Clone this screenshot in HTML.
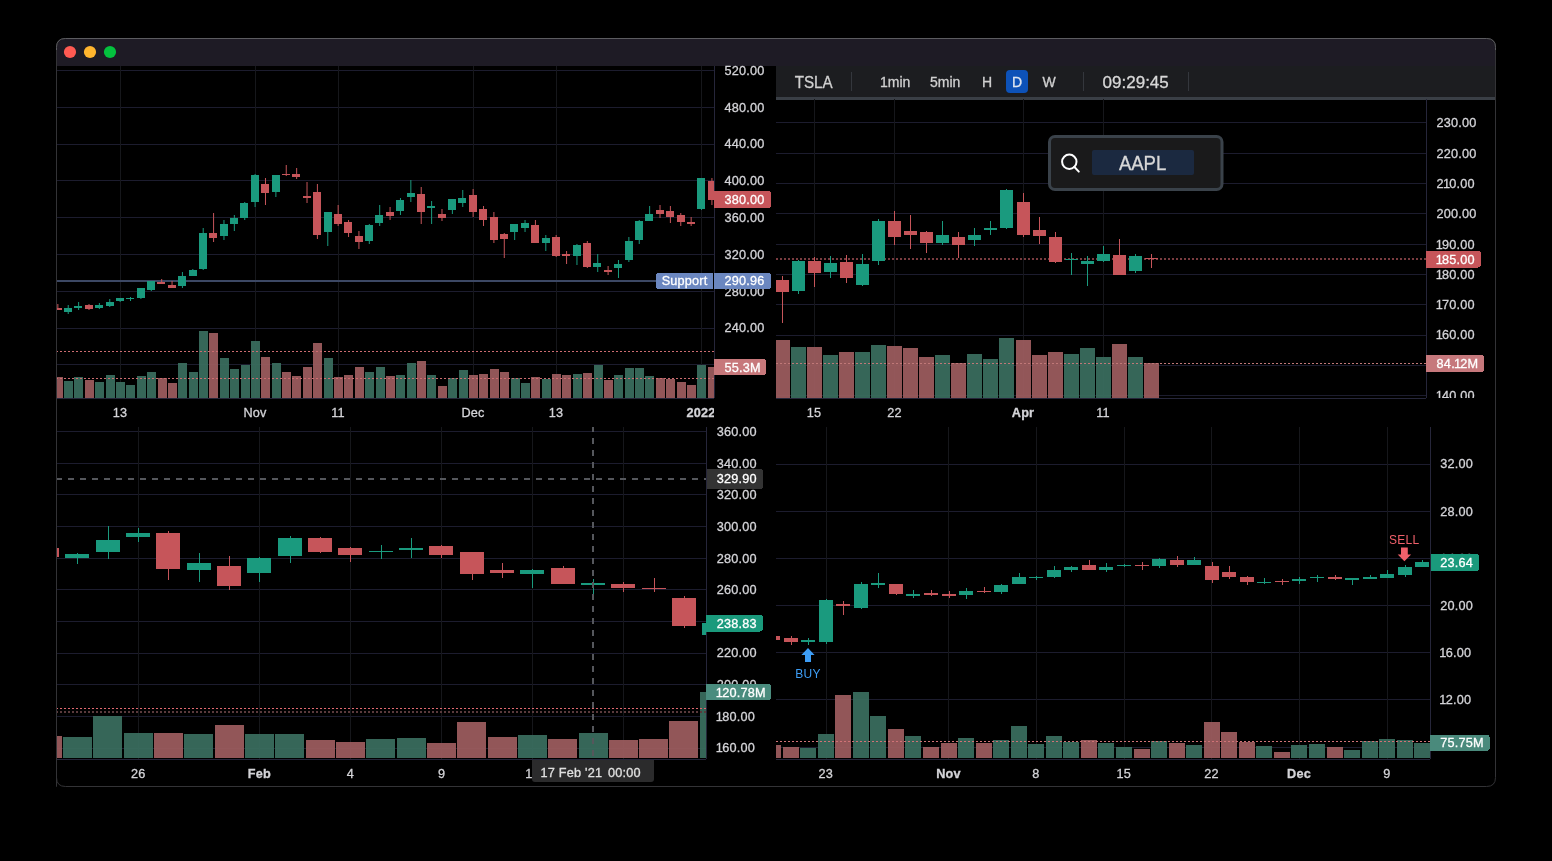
<!DOCTYPE html><html><head><meta charset="utf-8"><style>html,body{margin:0;padding:0;background:#000;width:1552px;height:861px;overflow:hidden}svg{display:block;will-change:transform}</style></head><body><svg width="1552" height="861" viewBox="0 0 1552 861" font-family='"Liberation Sans", sans-serif' shape-rendering="crispEdges">
<defs><clipPath id="cTL"><rect x="57" y="66" width="657" height="332"/></clipPath><clipPath id="cTLt"><rect x="57" y="398" width="657" height="28"/></clipPath><clipPath id="cTR"><rect x="776" y="99" width="650" height="299"/></clipPath><clipPath id="cTRa"><rect x="1427" y="99" width="68" height="299"/></clipPath><clipPath id="cBL"><rect x="57" y="427" width="649" height="332"/></clipPath><clipPath id="cBR"><rect x="776" y="427" width="654" height="332"/></clipPath></defs>
<rect width="1552" height="861" fill="#000"/>
<path shape-rendering="geometricPrecision" d="M56.5,786.5 V47.5 Q56.5,38.5 65.5,38.5 H1486.5 Q1495.5,38.5 1495.5,47.5 V777.5 Q1495.5,786.5 1486.5,786.5 H65.5 Q56.5,786.5 56.5,777.5 Z" fill="#000" stroke="#333336" stroke-width="1"/>
<path shape-rendering="geometricPrecision" d="M57,66 V48 Q57,39 66,39 H1486 Q1495,39 1495,48 V66 Z" fill="#1e1b25"/>
<path shape-rendering="geometricPrecision" d="M56.5,50 V47.5 Q56.5,38.5 65.5,38.5 H1486.5 Q1495.5,38.5 1495.5,47.5 V50" fill="none" stroke="#5c5c60" stroke-width="1"/>
<circle shape-rendering="geometricPrecision" cx="70" cy="52" r="6.1" fill="#ff5a52"/>
<circle shape-rendering="geometricPrecision" cx="90" cy="52" r="6.1" fill="#ffb52e"/>
<circle shape-rendering="geometricPrecision" cx="110" cy="52" r="6.1" fill="#04c13e"/>
<g clip-path="url(#cTL)">
<rect x="57" y="70" width="657" height="1" fill="#1c1c2e"/>
<rect x="57" y="107" width="657" height="1" fill="#1c1c2e"/>
<rect x="57" y="144" width="657" height="1" fill="#1c1c2e"/>
<rect x="57" y="180" width="657" height="1" fill="#1c1c2e"/>
<rect x="57" y="217" width="657" height="1" fill="#1c1c2e"/>
<rect x="57" y="254" width="657" height="1" fill="#1c1c2e"/>
<rect x="57" y="291" width="657" height="1" fill="#1c1c2e"/>
<rect x="57" y="328" width="657" height="1" fill="#1c1c2e"/>
<rect x="57" y="364" width="657" height="1" fill="#1c1c2e"/>
<rect x="120" y="66" width="1" height="332" fill="#16171b"/>
<rect x="255" y="66" width="1" height="332" fill="#16171b"/>
<rect x="338" y="66" width="1" height="332" fill="#16171b"/>
<rect x="473" y="66" width="1" height="332" fill="#16171b"/>
<rect x="556" y="66" width="1" height="332" fill="#16171b"/>
<rect x="701" y="66" width="1" height="332" fill="#16171b"/>
<rect x="54" y="377" width="9" height="21" fill="#9e5d60" fill-opacity="0.92"/>
<rect x="64" y="381" width="9" height="17" fill="#3b6f60" fill-opacity="0.92"/>
<rect x="74" y="377" width="9" height="21" fill="#3b6f60" fill-opacity="0.92"/>
<rect x="85" y="380" width="9" height="18" fill="#9e5d60" fill-opacity="0.92"/>
<rect x="95" y="382" width="9" height="16" fill="#3b6f60" fill-opacity="0.92"/>
<rect x="106" y="375" width="9" height="23" fill="#3b6f60" fill-opacity="0.92"/>
<rect x="116" y="382" width="9" height="16" fill="#3b6f60" fill-opacity="0.92"/>
<rect x="126" y="385" width="9" height="13" fill="#3b6f60" fill-opacity="0.92"/>
<rect x="137" y="376" width="9" height="22" fill="#3b6f60" fill-opacity="0.92"/>
<rect x="147" y="372" width="9" height="26" fill="#3b6f60" fill-opacity="0.92"/>
<rect x="158" y="378" width="9" height="20" fill="#9e5d60" fill-opacity="0.92"/>
<rect x="168" y="383" width="9" height="15" fill="#9e5d60" fill-opacity="0.92"/>
<rect x="178" y="363" width="9" height="35" fill="#3b6f60" fill-opacity="0.92"/>
<rect x="189" y="372" width="9" height="26" fill="#3b6f60" fill-opacity="0.92"/>
<rect x="199" y="331" width="9" height="67" fill="#3b6f60" fill-opacity="0.92"/>
<rect x="209" y="333" width="9" height="65" fill="#9e5d60" fill-opacity="0.92"/>
<rect x="220" y="358" width="9" height="40" fill="#3b6f60" fill-opacity="0.92"/>
<rect x="230" y="369" width="9" height="29" fill="#3b6f60" fill-opacity="0.92"/>
<rect x="241" y="365" width="9" height="33" fill="#3b6f60" fill-opacity="0.92"/>
<rect x="251" y="341" width="9" height="57" fill="#3b6f60" fill-opacity="0.92"/>
<rect x="261" y="357" width="9" height="41" fill="#9e5d60" fill-opacity="0.92"/>
<rect x="272" y="363" width="9" height="35" fill="#3b6f60" fill-opacity="0.92"/>
<rect x="282" y="372" width="9" height="26" fill="#9e5d60" fill-opacity="0.92"/>
<rect x="292" y="376" width="9" height="22" fill="#9e5d60" fill-opacity="0.92"/>
<rect x="303" y="367" width="9" height="31" fill="#9e5d60" fill-opacity="0.92"/>
<rect x="313" y="343" width="9" height="55" fill="#9e5d60" fill-opacity="0.92"/>
<rect x="324" y="358" width="9" height="40" fill="#3b6f60" fill-opacity="0.92"/>
<rect x="334" y="377" width="9" height="21" fill="#9e5d60" fill-opacity="0.92"/>
<rect x="344" y="375" width="9" height="23" fill="#9e5d60" fill-opacity="0.92"/>
<rect x="355" y="367" width="9" height="31" fill="#9e5d60" fill-opacity="0.92"/>
<rect x="365" y="372" width="9" height="26" fill="#3b6f60" fill-opacity="0.92"/>
<rect x="376" y="367" width="9" height="31" fill="#3b6f60" fill-opacity="0.92"/>
<rect x="386" y="376" width="9" height="22" fill="#9e5d60" fill-opacity="0.92"/>
<rect x="396" y="375" width="9" height="23" fill="#3b6f60" fill-opacity="0.92"/>
<rect x="407" y="363" width="9" height="35" fill="#3b6f60" fill-opacity="0.92"/>
<rect x="417" y="361" width="9" height="37" fill="#9e5d60" fill-opacity="0.92"/>
<rect x="427" y="375" width="9" height="23" fill="#3b6f60" fill-opacity="0.92"/>
<rect x="438" y="386" width="9" height="12" fill="#9e5d60" fill-opacity="0.92"/>
<rect x="448" y="378" width="9" height="20" fill="#3b6f60" fill-opacity="0.92"/>
<rect x="459" y="370" width="9" height="28" fill="#3b6f60" fill-opacity="0.92"/>
<rect x="469" y="375" width="9" height="23" fill="#9e5d60" fill-opacity="0.92"/>
<rect x="479" y="374" width="9" height="24" fill="#9e5d60" fill-opacity="0.92"/>
<rect x="490" y="369" width="9" height="29" fill="#9e5d60" fill-opacity="0.92"/>
<rect x="500" y="372" width="9" height="26" fill="#9e5d60" fill-opacity="0.92"/>
<rect x="511" y="378" width="9" height="20" fill="#3b6f60" fill-opacity="0.92"/>
<rect x="521" y="383" width="9" height="15" fill="#3b6f60" fill-opacity="0.92"/>
<rect x="531" y="377" width="9" height="21" fill="#9e5d60" fill-opacity="0.92"/>
<rect x="542" y="379" width="9" height="19" fill="#3b6f60" fill-opacity="0.92"/>
<rect x="552" y="374" width="9" height="24" fill="#9e5d60" fill-opacity="0.92"/>
<rect x="562" y="375" width="9" height="23" fill="#9e5d60" fill-opacity="0.92"/>
<rect x="573" y="374" width="9" height="24" fill="#3b6f60" fill-opacity="0.92"/>
<rect x="583" y="373" width="9" height="25" fill="#9e5d60" fill-opacity="0.92"/>
<rect x="594" y="365" width="9" height="33" fill="#3b6f60" fill-opacity="0.92"/>
<rect x="604" y="380" width="9" height="18" fill="#9e5d60" fill-opacity="0.92"/>
<rect x="614" y="375" width="9" height="23" fill="#3b6f60" fill-opacity="0.92"/>
<rect x="625" y="368" width="9" height="30" fill="#3b6f60" fill-opacity="0.92"/>
<rect x="635" y="368" width="9" height="30" fill="#3b6f60" fill-opacity="0.92"/>
<rect x="645" y="376" width="9" height="22" fill="#3b6f60" fill-opacity="0.92"/>
<rect x="656" y="378" width="9" height="20" fill="#9e5d60" fill-opacity="0.92"/>
<rect x="666" y="379" width="9" height="19" fill="#9e5d60" fill-opacity="0.92"/>
<rect x="677" y="382" width="9" height="16" fill="#9e5d60" fill-opacity="0.92"/>
<rect x="687" y="385" width="9" height="13" fill="#9e5d60" fill-opacity="0.92"/>
<rect x="697" y="365" width="9" height="33" fill="#3b6f60" fill-opacity="0.92"/>
<rect x="708" y="367" width="9" height="31" fill="#9e5d60" fill-opacity="0.92"/>
<rect x="57" y="280" width="600" height="2" fill="#3c4864"/>
<rect x="57.35" y="304" width="1" height="6" fill="#c6555a" shape-rendering="geometricPrecision"/>
<rect x="54" y="308" width="8" height="2" fill="#c6555a"/>
<rect x="67.73" y="305" width="1" height="9" fill="#1a9a7e" shape-rendering="geometricPrecision"/>
<rect x="64" y="308" width="8" height="4" fill="#1a9a7e"/>
<rect x="78.11" y="302" width="1" height="8" fill="#1a9a7e" shape-rendering="geometricPrecision"/>
<rect x="74" y="306" width="8" height="2" fill="#1a9a7e"/>
<rect x="88.5" y="304" width="1" height="6" fill="#c6555a" shape-rendering="geometricPrecision"/>
<rect x="85" y="305" width="8" height="4" fill="#c6555a"/>
<rect x="98.88" y="303" width="1" height="6" fill="#1a9a7e" shape-rendering="geometricPrecision"/>
<rect x="95" y="305" width="8" height="3" fill="#1a9a7e"/>
<rect x="109.26" y="299" width="1" height="8" fill="#1a9a7e" shape-rendering="geometricPrecision"/>
<rect x="106" y="302" width="8" height="4" fill="#1a9a7e"/>
<rect x="119.64" y="298" width="1" height="4" fill="#1a9a7e" shape-rendering="geometricPrecision"/>
<rect x="116" y="298" width="8" height="3" fill="#1a9a7e"/>
<rect x="130.02" y="297" width="1" height="4" fill="#1a9a7e" shape-rendering="geometricPrecision"/>
<rect x="126" y="298" width="8" height="1" fill="#1a9a7e"/>
<rect x="140.41" y="288" width="1" height="11" fill="#1a9a7e" shape-rendering="geometricPrecision"/>
<rect x="137" y="288" width="8" height="10" fill="#1a9a7e"/>
<rect x="150.79" y="281" width="1" height="10" fill="#1a9a7e" shape-rendering="geometricPrecision"/>
<rect x="147" y="281" width="8" height="9" fill="#1a9a7e"/>
<rect x="161.17" y="279" width="1" height="5" fill="#c6555a" shape-rendering="geometricPrecision"/>
<rect x="157" y="282" width="8" height="2" fill="#c6555a"/>
<rect x="171.55" y="281" width="1" height="7" fill="#c6555a" shape-rendering="geometricPrecision"/>
<rect x="168" y="285" width="8" height="3" fill="#c6555a"/>
<rect x="181.93" y="272" width="1" height="16" fill="#1a9a7e" shape-rendering="geometricPrecision"/>
<rect x="178" y="276" width="8" height="10" fill="#1a9a7e"/>
<rect x="192.32" y="269" width="1" height="7" fill="#1a9a7e" shape-rendering="geometricPrecision"/>
<rect x="189" y="270" width="8" height="6" fill="#1a9a7e"/>
<rect x="202.7" y="228" width="1" height="42" fill="#1a9a7e" shape-rendering="geometricPrecision"/>
<rect x="199" y="233" width="8" height="36" fill="#1a9a7e"/>
<rect x="213.08" y="213" width="1" height="29" fill="#c6555a" shape-rendering="geometricPrecision"/>
<rect x="209" y="233" width="8" height="5" fill="#c6555a"/>
<rect x="223.46" y="220" width="1" height="20" fill="#1a9a7e" shape-rendering="geometricPrecision"/>
<rect x="220" y="224" width="8" height="12" fill="#1a9a7e"/>
<rect x="233.84" y="215" width="1" height="16" fill="#1a9a7e" shape-rendering="geometricPrecision"/>
<rect x="230" y="218" width="8" height="6" fill="#1a9a7e"/>
<rect x="244.23" y="202" width="1" height="18" fill="#1a9a7e" shape-rendering="geometricPrecision"/>
<rect x="240" y="203" width="8" height="15" fill="#1a9a7e"/>
<rect x="254.61" y="174" width="1" height="33" fill="#1a9a7e" shape-rendering="geometricPrecision"/>
<rect x="251" y="175" width="8" height="27" fill="#1a9a7e"/>
<rect x="264.99" y="178" width="1" height="27" fill="#c6555a" shape-rendering="geometricPrecision"/>
<rect x="261" y="184" width="8" height="9" fill="#c6555a"/>
<rect x="275.37" y="175" width="1" height="22" fill="#1a9a7e" shape-rendering="geometricPrecision"/>
<rect x="272" y="175" width="8" height="17" fill="#1a9a7e"/>
<rect x="285.75" y="165" width="1" height="11" fill="#c6555a" shape-rendering="geometricPrecision"/>
<rect x="282" y="174" width="8" height="1" fill="#c6555a"/>
<rect x="296.14" y="168" width="1" height="11" fill="#c6555a" shape-rendering="geometricPrecision"/>
<rect x="292" y="174" width="8" height="3" fill="#c6555a"/>
<rect x="306.52" y="182" width="1" height="21" fill="#c6555a" shape-rendering="geometricPrecision"/>
<rect x="303" y="196" width="8" height="2" fill="#c6555a"/>
<rect x="316.9" y="184" width="1" height="55" fill="#c6555a" shape-rendering="geometricPrecision"/>
<rect x="313" y="192" width="8" height="43" fill="#c6555a"/>
<rect x="327.28" y="212" width="1" height="34" fill="#1a9a7e" shape-rendering="geometricPrecision"/>
<rect x="324" y="212" width="8" height="20" fill="#1a9a7e"/>
<rect x="337.66" y="205" width="1" height="21" fill="#c6555a" shape-rendering="geometricPrecision"/>
<rect x="334" y="214" width="8" height="10" fill="#c6555a"/>
<rect x="348.05" y="220" width="1" height="17" fill="#c6555a" shape-rendering="geometricPrecision"/>
<rect x="344" y="222" width="8" height="11" fill="#c6555a"/>
<rect x="358.43" y="231" width="1" height="18" fill="#c6555a" shape-rendering="geometricPrecision"/>
<rect x="355" y="236" width="8" height="6" fill="#c6555a"/>
<rect x="368.81" y="224" width="1" height="20" fill="#1a9a7e" shape-rendering="geometricPrecision"/>
<rect x="365" y="225" width="8" height="16" fill="#1a9a7e"/>
<rect x="379.19" y="205" width="1" height="21" fill="#1a9a7e" shape-rendering="geometricPrecision"/>
<rect x="375" y="215" width="8" height="8" fill="#1a9a7e"/>
<rect x="389.57" y="207" width="1" height="13" fill="#c6555a" shape-rendering="geometricPrecision"/>
<rect x="386" y="212" width="8" height="4" fill="#c6555a"/>
<rect x="399.96" y="198" width="1" height="17" fill="#1a9a7e" shape-rendering="geometricPrecision"/>
<rect x="396" y="200" width="8" height="11" fill="#1a9a7e"/>
<rect x="410.34" y="180" width="1" height="22" fill="#1a9a7e" shape-rendering="geometricPrecision"/>
<rect x="407" y="193" width="8" height="4" fill="#1a9a7e"/>
<rect x="420.72" y="187" width="1" height="37" fill="#c6555a" shape-rendering="geometricPrecision"/>
<rect x="417" y="194" width="8" height="18" fill="#c6555a"/>
<rect x="431.1" y="201" width="1" height="23" fill="#1a9a7e" shape-rendering="geometricPrecision"/>
<rect x="427" y="206" width="8" height="2" fill="#1a9a7e"/>
<rect x="441.48" y="209" width="1" height="12" fill="#c6555a" shape-rendering="geometricPrecision"/>
<rect x="438" y="214" width="8" height="4" fill="#c6555a"/>
<rect x="451.87" y="199" width="1" height="15" fill="#1a9a7e" shape-rendering="geometricPrecision"/>
<rect x="448" y="199" width="8" height="11" fill="#1a9a7e"/>
<rect x="462.25" y="190" width="1" height="17" fill="#1a9a7e" shape-rendering="geometricPrecision"/>
<rect x="458" y="198" width="8" height="5" fill="#1a9a7e"/>
<rect x="472.63" y="189" width="1" height="28" fill="#c6555a" shape-rendering="geometricPrecision"/>
<rect x="469" y="195" width="8" height="17" fill="#c6555a"/>
<rect x="483.01" y="206" width="1" height="20" fill="#c6555a" shape-rendering="geometricPrecision"/>
<rect x="479" y="209" width="8" height="11" fill="#c6555a"/>
<rect x="493.39" y="212" width="1" height="31" fill="#c6555a" shape-rendering="geometricPrecision"/>
<rect x="490" y="217" width="8" height="23" fill="#c6555a"/>
<rect x="503.78" y="233" width="1" height="25" fill="#c6555a" shape-rendering="geometricPrecision"/>
<rect x="500" y="234" width="8" height="5" fill="#c6555a"/>
<rect x="514.16" y="224" width="1" height="16" fill="#1a9a7e" shape-rendering="geometricPrecision"/>
<rect x="510" y="224" width="8" height="8" fill="#1a9a7e"/>
<rect x="524.54" y="220" width="1" height="12" fill="#1a9a7e" shape-rendering="geometricPrecision"/>
<rect x="521" y="223" width="8" height="5" fill="#1a9a7e"/>
<rect x="534.92" y="220" width="1" height="23" fill="#c6555a" shape-rendering="geometricPrecision"/>
<rect x="531" y="225" width="8" height="18" fill="#c6555a"/>
<rect x="545.3" y="235" width="1" height="16" fill="#1a9a7e" shape-rendering="geometricPrecision"/>
<rect x="542" y="238" width="8" height="5" fill="#1a9a7e"/>
<rect x="555.69" y="235" width="1" height="22" fill="#c6555a" shape-rendering="geometricPrecision"/>
<rect x="552" y="237" width="8" height="19" fill="#c6555a"/>
<rect x="566.07" y="251" width="1" height="13" fill="#c6555a" shape-rendering="geometricPrecision"/>
<rect x="562" y="254" width="8" height="2" fill="#c6555a"/>
<rect x="576.45" y="244" width="1" height="21" fill="#1a9a7e" shape-rendering="geometricPrecision"/>
<rect x="573" y="245" width="8" height="11" fill="#1a9a7e"/>
<rect x="586.83" y="241" width="1" height="27" fill="#c6555a" shape-rendering="geometricPrecision"/>
<rect x="583" y="243" width="8" height="24" fill="#c6555a"/>
<rect x="597.21" y="254" width="1" height="18" fill="#1a9a7e" shape-rendering="geometricPrecision"/>
<rect x="593" y="263" width="8" height="4" fill="#1a9a7e"/>
<rect x="607.6" y="266" width="1" height="9" fill="#c6555a" shape-rendering="geometricPrecision"/>
<rect x="604" y="270" width="8" height="2" fill="#c6555a"/>
<rect x="617.98" y="260" width="1" height="18" fill="#1a9a7e" shape-rendering="geometricPrecision"/>
<rect x="614" y="264" width="8" height="4" fill="#1a9a7e"/>
<rect x="628.36" y="237" width="1" height="25" fill="#1a9a7e" shape-rendering="geometricPrecision"/>
<rect x="625" y="241" width="8" height="19" fill="#1a9a7e"/>
<rect x="638.74" y="220" width="1" height="24" fill="#1a9a7e" shape-rendering="geometricPrecision"/>
<rect x="635" y="221" width="8" height="19" fill="#1a9a7e"/>
<rect x="649.12" y="206" width="1" height="15" fill="#1a9a7e" shape-rendering="geometricPrecision"/>
<rect x="645" y="214" width="8" height="7" fill="#1a9a7e"/>
<rect x="659.51" y="205" width="1" height="13" fill="#c6555a" shape-rendering="geometricPrecision"/>
<rect x="656" y="210" width="8" height="4" fill="#c6555a"/>
<rect x="669.89" y="206" width="1" height="17" fill="#c6555a" shape-rendering="geometricPrecision"/>
<rect x="666" y="211" width="8" height="6" fill="#c6555a"/>
<rect x="680.27" y="213" width="1" height="13" fill="#c6555a" shape-rendering="geometricPrecision"/>
<rect x="677" y="215" width="8" height="7" fill="#c6555a"/>
<rect x="690.65" y="217" width="1" height="9" fill="#c6555a" shape-rendering="geometricPrecision"/>
<rect x="687" y="222" width="8" height="2" fill="#c6555a"/>
<rect x="701.03" y="178" width="1" height="32" fill="#1a9a7e" shape-rendering="geometricPrecision"/>
<rect x="697" y="178" width="8" height="31" fill="#1a9a7e"/>
<rect x="711.42" y="178" width="1" height="27" fill="#c6555a" shape-rendering="geometricPrecision"/>
<rect x="708" y="181" width="8" height="19" fill="#c6555a"/>
<line x1="56" y1="351.5" x2="714" y2="351.5" stroke="#cc6c70" stroke-width="1" stroke-dasharray="2 2" stroke-dashoffset="0"/>
<line x1="56" y1="378.5" x2="714" y2="378.5" stroke="#cc6c70" stroke-width="1" stroke-dasharray="2 2" stroke-dashoffset="0"/>
</g>
<rect x="714" y="66" width="1" height="332" fill="#26263a"/>
<rect x="57" y="398" width="657" height="1" fill="#26263a"/>
<text x="724.6" y="74.7" font-size="12.7" fill="#d4d4d8" stroke="#d4d4d8" stroke-width="0.3" letter-spacing="0.2">520.00</text>
<text x="724.6" y="111.5" font-size="12.7" fill="#d4d4d8" stroke="#d4d4d8" stroke-width="0.3" letter-spacing="0.2">480.00</text>
<text x="724.6" y="148.3" font-size="12.7" fill="#d4d4d8" stroke="#d4d4d8" stroke-width="0.3" letter-spacing="0.2">440.00</text>
<text x="724.6" y="185.1" font-size="12.7" fill="#d4d4d8" stroke="#d4d4d8" stroke-width="0.3" letter-spacing="0.2">400.00</text>
<text x="724.6" y="221.9" font-size="12.7" fill="#d4d4d8" stroke="#d4d4d8" stroke-width="0.3" letter-spacing="0.2">360.00</text>
<text x="724.6" y="258.7" font-size="12.7" fill="#d4d4d8" stroke="#d4d4d8" stroke-width="0.3" letter-spacing="0.2">320.00</text>
<text x="724.6" y="295.5" font-size="12.7" fill="#d4d4d8" stroke="#d4d4d8" stroke-width="0.3" letter-spacing="0.2">280.00</text>
<text x="724.6" y="332.3" font-size="12.7" fill="#d4d4d8" stroke="#d4d4d8" stroke-width="0.3" letter-spacing="0.2">240.00</text>
<path d="M714,191 H768 Q771,191 771,194 V205 Q771,208 768,208 H714 Q714,208 714,208 V191 Q714,191 714,191 Z" fill="#c6555a"/>
<text x="724.6" y="204" font-size="12.7" fill="#ffffff" stroke="#ffffff" stroke-width="0.3" letter-spacing="0.2">380.00</text>
<path d="M659,272.5 H713 Q713,272.5 713,272.5 V289.0 Q713,289.0 713,289.0 H659 Q656,289.0 656,286.0 V275.5 Q656,272.5 659,272.5 Z" fill="#6b87c0"/>
<text x="661.7" y="285.25" font-size="12.7" fill="#ffffff" stroke="#ffffff" stroke-width="0.3" letter-spacing="0.2">Support</text>
<path d="M714,272.5 H768 Q771,272.5 771,275.5 V286.0 Q771,289.0 768,289.0 H714 Q714,289.0 714,289.0 V272.5 Q714,272.5 714,272.5 Z" fill="#6b87c0"/>
<text x="724.6" y="285.25" font-size="12.7" fill="#ffffff" stroke="#ffffff" stroke-width="0.3" letter-spacing="0.2">290.96</text>
<path d="M714,359 H763 Q766,359 766,362 V372 Q766,375 763,375 H714 Q714,375 714,375 V359 Q714,359 714,359 Z" fill="#c7787b"/>
<text x="724.6" y="371.5" font-size="12.7" fill="#ffffff" stroke="#ffffff" stroke-width="0.3" letter-spacing="0.2">55.3M</text>
<g clip-path="url(#cTLt)">
<text x="120" y="417" font-size="12.7" fill="#d4d4d8" text-anchor="middle" stroke="#d4d4d8" stroke-width="0.3" letter-spacing="0.2">13</text>
<text x="255" y="417" font-size="12.7" fill="#d4d4d8" text-anchor="middle" stroke="#d4d4d8" stroke-width="0.3" letter-spacing="0.2">Nov</text>
<text x="338" y="417" font-size="12.7" fill="#d4d4d8" text-anchor="middle" stroke="#d4d4d8" stroke-width="0.3" letter-spacing="0.2">11</text>
<text x="473" y="417" font-size="12.7" fill="#d4d4d8" text-anchor="middle" stroke="#d4d4d8" stroke-width="0.3" letter-spacing="0.2">Dec</text>
<text x="556" y="417" font-size="12.7" fill="#d4d4d8" text-anchor="middle" stroke="#d4d4d8" stroke-width="0.3" letter-spacing="0.2">13</text>
<text x="701" y="417" font-size="12.7" fill="#d4d4d8" text-anchor="middle" font-weight="bold" stroke="#d4d4d8" stroke-width="0.3" letter-spacing="0.2">2022</text>
</g>
<rect x="776" y="66" width="719" height="31" fill="#1c1d20"/>
<rect x="776" y="97" width="719" height="3" fill="#3a3f46"/>
<text x="794.7" y="87.8" font-size="16" fill="#d0d0d0" stroke="#d0d0d0" stroke-width="0.3" textLength="37.9" lengthAdjust="spacingAndGlyphs">TSLA</text>
<rect x="851" y="72" width="1" height="19" fill="#34373d"/>
<rect x="1083" y="72" width="1" height="19" fill="#34373d"/>
<rect x="1188" y="72" width="1" height="19" fill="#34373d"/>
<text x="880" y="87" font-size="14" fill="#d0d0d0" stroke="#d0d0d0" stroke-width="0.3">1min</text>
<text x="930" y="87" font-size="14" fill="#d0d0d0" stroke="#d0d0d0" stroke-width="0.3">5min</text>
<text x="982" y="87" font-size="14" fill="#d0d0d0" stroke="#d0d0d0" stroke-width="0.3">H</text>
<rect shape-rendering="geometricPrecision" x="1006" y="70" width="22" height="23" rx="4" fill="#0d52b8"/>
<text x="1017" y="87" font-size="14" fill="#dfe6f0" text-anchor="middle" stroke="#dfe6f0" stroke-width="0.3">D</text>
<text x="1049" y="87" font-size="14" fill="#d0d0d0" text-anchor="middle" stroke="#d0d0d0" stroke-width="0.3">W</text>
<text x="1102.6" y="87.8" font-size="17" fill="#d8d8d8" stroke="#d8d8d8" stroke-width="0.3">09:29:45</text>
<g clip-path="url(#cTR)">
<rect x="776" y="122" width="650" height="1" fill="#1c1c2e"/>
<rect x="776" y="153" width="650" height="1" fill="#1c1c2e"/>
<rect x="776" y="183" width="650" height="1" fill="#1c1c2e"/>
<rect x="776" y="213" width="650" height="1" fill="#1c1c2e"/>
<rect x="776" y="244" width="650" height="1" fill="#1c1c2e"/>
<rect x="776" y="274" width="650" height="1" fill="#1c1c2e"/>
<rect x="776" y="304" width="650" height="1" fill="#1c1c2e"/>
<rect x="776" y="335" width="650" height="1" fill="#1c1c2e"/>
<rect x="776" y="365" width="650" height="1" fill="#1c1c2e"/>
<rect x="776" y="395" width="650" height="1" fill="#1c1c2e"/>
<rect x="814" y="99" width="1" height="299" fill="#16171b"/>
<rect x="894" y="99" width="1" height="299" fill="#16171b"/>
<rect x="1023" y="99" width="1" height="299" fill="#16171b"/>
<rect x="1103" y="99" width="1" height="299" fill="#16171b"/>
<rect x="775" y="340" width="15" height="58" fill="#9e5d60" fill-opacity="0.92"/>
<rect x="791" y="347" width="15" height="51" fill="#3b6f60" fill-opacity="0.92"/>
<rect x="807" y="347" width="15" height="51" fill="#9e5d60" fill-opacity="0.92"/>
<rect x="823" y="355" width="15" height="43" fill="#3b6f60" fill-opacity="0.92"/>
<rect x="839" y="352" width="15" height="46" fill="#9e5d60" fill-opacity="0.92"/>
<rect x="855" y="352" width="15" height="46" fill="#3b6f60" fill-opacity="0.92"/>
<rect x="871" y="345" width="15" height="53" fill="#3b6f60" fill-opacity="0.92"/>
<rect x="887" y="346" width="15" height="52" fill="#9e5d60" fill-opacity="0.92"/>
<rect x="903" y="348" width="15" height="50" fill="#9e5d60" fill-opacity="0.92"/>
<rect x="919" y="357" width="15" height="41" fill="#9e5d60" fill-opacity="0.92"/>
<rect x="935" y="355" width="15" height="43" fill="#3b6f60" fill-opacity="0.92"/>
<rect x="951" y="363" width="15" height="35" fill="#9e5d60" fill-opacity="0.92"/>
<rect x="967" y="354" width="15" height="44" fill="#3b6f60" fill-opacity="0.92"/>
<rect x="983" y="359" width="15" height="39" fill="#3b6f60" fill-opacity="0.92"/>
<rect x="999" y="338" width="15" height="60" fill="#3b6f60" fill-opacity="0.92"/>
<rect x="1016" y="340" width="15" height="58" fill="#9e5d60" fill-opacity="0.92"/>
<rect x="1032" y="355" width="15" height="43" fill="#9e5d60" fill-opacity="0.92"/>
<rect x="1048" y="352" width="15" height="46" fill="#9e5d60" fill-opacity="0.92"/>
<rect x="1064" y="354" width="15" height="44" fill="#3b6f60" fill-opacity="0.92"/>
<rect x="1080" y="348" width="15" height="50" fill="#3b6f60" fill-opacity="0.92"/>
<rect x="1096" y="357" width="15" height="41" fill="#3b6f60" fill-opacity="0.92"/>
<rect x="1112" y="344" width="15" height="54" fill="#9e5d60" fill-opacity="0.92"/>
<rect x="1128" y="357" width="15" height="41" fill="#3b6f60" fill-opacity="0.92"/>
<rect x="1144" y="363" width="15" height="35" fill="#9e5d60" fill-opacity="0.92"/>
<line x1="776" y1="259" x2="1426" y2="259" stroke="#7a3c40" stroke-width="2" stroke-dasharray="2 2" stroke-dashoffset="0"/>
<rect x="782" y="276" width="1" height="47" fill="#c6555a"/>
<rect x="776" y="280" width="13" height="12" fill="#c6555a"/>
<rect x="798" y="260" width="1" height="34" fill="#1a9a7e"/>
<rect x="792" y="261" width="13" height="30" fill="#1a9a7e"/>
<rect x="814" y="257" width="1" height="30" fill="#c6555a"/>
<rect x="808" y="261" width="13" height="12" fill="#c6555a"/>
<rect x="830" y="256" width="1" height="22" fill="#1a9a7e"/>
<rect x="824" y="263" width="13" height="9" fill="#1a9a7e"/>
<rect x="846" y="255" width="1" height="28" fill="#c6555a"/>
<rect x="840" y="262" width="13" height="16" fill="#c6555a"/>
<rect x="862" y="254" width="1" height="32" fill="#1a9a7e"/>
<rect x="856" y="264" width="13" height="21" fill="#1a9a7e"/>
<rect x="878" y="219" width="1" height="46" fill="#1a9a7e"/>
<rect x="872" y="221" width="13" height="40" fill="#1a9a7e"/>
<rect x="894" y="211" width="1" height="34" fill="#c6555a"/>
<rect x="888" y="221" width="13" height="16" fill="#c6555a"/>
<rect x="910" y="215" width="1" height="34" fill="#c6555a"/>
<rect x="904" y="231" width="13" height="4" fill="#c6555a"/>
<rect x="926" y="231" width="1" height="22" fill="#c6555a"/>
<rect x="920" y="232" width="13" height="11" fill="#c6555a"/>
<rect x="942" y="221" width="1" height="24" fill="#1a9a7e"/>
<rect x="936" y="235" width="13" height="8" fill="#1a9a7e"/>
<rect x="958" y="232" width="1" height="26" fill="#c6555a"/>
<rect x="952" y="237" width="13" height="8" fill="#c6555a"/>
<rect x="974" y="228" width="1" height="18" fill="#1a9a7e"/>
<rect x="968" y="235" width="13" height="5" fill="#1a9a7e"/>
<rect x="990" y="221" width="1" height="14" fill="#1a9a7e"/>
<rect x="984" y="228" width="13" height="2" fill="#1a9a7e"/>
<rect x="1006" y="189" width="1" height="40" fill="#1a9a7e"/>
<rect x="1000" y="190" width="13" height="38" fill="#1a9a7e"/>
<rect x="1023" y="193" width="1" height="44" fill="#c6555a"/>
<rect x="1017" y="202" width="13" height="33" fill="#c6555a"/>
<rect x="1039" y="217" width="1" height="27" fill="#c6555a"/>
<rect x="1033" y="230" width="13" height="6" fill="#c6555a"/>
<rect x="1055" y="232" width="1" height="31" fill="#c6555a"/>
<rect x="1049" y="237" width="13" height="25" fill="#c6555a"/>
<rect x="1071" y="253" width="1" height="22" fill="#1a9a7e"/>
<rect x="1065" y="259" width="13" height="1" fill="#1a9a7e"/>
<rect x="1087" y="256" width="1" height="30" fill="#1a9a7e"/>
<rect x="1081" y="261" width="13" height="3" fill="#1a9a7e"/>
<rect x="1103" y="246" width="1" height="16" fill="#1a9a7e"/>
<rect x="1097" y="254" width="13" height="7" fill="#1a9a7e"/>
<rect x="1119" y="239" width="1" height="36" fill="#c6555a"/>
<rect x="1113" y="255" width="13" height="20" fill="#c6555a"/>
<rect x="1135" y="254" width="1" height="19" fill="#1a9a7e"/>
<rect x="1129" y="256" width="13" height="15" fill="#1a9a7e"/>
<rect x="1151" y="254" width="1" height="14" fill="#c6555a"/>
<rect x="1145" y="258" width="13" height="1" fill="#c6555a"/>
<line x1="776" y1="363.5" x2="1426" y2="363.5" stroke="#c07878" stroke-width="1" stroke-dasharray="2 2" stroke-dashoffset="0"/>
</g>
<rect x="1426" y="99" width="1" height="299" fill="#26263a"/>
<rect x="776" y="398" width="650" height="1" fill="#26263a"/>
<g clip-path="url(#cTRa)">
<text x="1436.6" y="127.3" font-size="12.7" fill="#d4d4d8" stroke="#d4d4d8" stroke-width="0.3" letter-spacing="0.2">230.00</text>
<text x="1436.6" y="157.6" font-size="12.7" fill="#d4d4d8" stroke="#d4d4d8" stroke-width="0.3" letter-spacing="0.2">220.00</text>
<text x="1436.6" y="187.9" font-size="12.7" fill="#d4d4d8" stroke="#d4d4d8" stroke-width="0.3" letter-spacing="0.2" dx="0 -0.9 -0.9 0 0 0">210.00</text>
<text x="1436.6" y="218.2" font-size="12.7" fill="#d4d4d8" stroke="#d4d4d8" stroke-width="0.3" letter-spacing="0.2">200.00</text>
<text x="1436.6" y="248.5" font-size="12.7" fill="#d4d4d8" stroke="#d4d4d8" stroke-width="0.3" letter-spacing="0.2" dx="-0.9 -0.9 0 0 0 0">190.00</text>
<text x="1436.6" y="278.8" font-size="12.7" fill="#d4d4d8" stroke="#d4d4d8" stroke-width="0.3" letter-spacing="0.2" dx="-0.9 -0.9 0 0 0 0">180.00</text>
<text x="1436.6" y="309.1" font-size="12.7" fill="#d4d4d8" stroke="#d4d4d8" stroke-width="0.3" letter-spacing="0.2" dx="-0.9 -0.9 0 0 0 0">170.00</text>
<text x="1436.6" y="339.4" font-size="12.7" fill="#d4d4d8" stroke="#d4d4d8" stroke-width="0.3" letter-spacing="0.2" dx="-0.9 -0.9 0 0 0 0">160.00</text>
<text x="1436.6" y="400" font-size="12.7" fill="#d4d4d8" stroke="#d4d4d8" stroke-width="0.3" letter-spacing="0.2" dx="-0.9 -0.9 0 0 0 0">140.00</text>
</g>
<path d="M1426,250.5 H1478 Q1481,250.5 1481,253.5 V264.5 Q1481,267.5 1478,267.5 H1426 Q1426,267.5 1426,267.5 V250.5 Q1426,250.5 1426,250.5 Z" fill="#c6555a"/>
<text x="1436.6" y="263.5" font-size="12.7" fill="#ffffff" stroke="#ffffff" stroke-width="0.3" letter-spacing="0.2" dx="-0.9 -0.9 0 0 0 0">185.00</text>
<path d="M1426,355 H1481 Q1484,355 1484,358 V369 Q1484,372 1481,372 H1426 Q1426,372 1426,372 V355 Q1426,355 1426,355 Z" fill="#c6787c"/>
<text x="1436.6" y="368" font-size="12.7" fill="#ffffff" stroke="#ffffff" stroke-width="0.3" letter-spacing="0.2" dx="0 0 0 -0.9 -0.9 0">84.12M</text>
<text x="814" y="417" font-size="12.7" fill="#d4d4d8" text-anchor="middle" stroke="#d4d4d8" stroke-width="0.3" letter-spacing="0.2">15</text>
<text x="894.5" y="417" font-size="12.7" fill="#d4d4d8" text-anchor="middle" stroke="#d4d4d8" stroke-width="0.3" letter-spacing="0.2">22</text>
<text x="1023" y="417" font-size="12.7" fill="#d4d4d8" text-anchor="middle" font-weight="bold" stroke="#d4d4d8" stroke-width="0.3" letter-spacing="0.2">Apr</text>
<text x="1103" y="417" font-size="12.7" fill="#d4d4d8" text-anchor="middle" stroke="#d4d4d8" stroke-width="0.3" letter-spacing="0.2">11</text>
<rect shape-rendering="geometricPrecision" x="1049.5" y="136.5" width="172.5" height="53" rx="5.5" fill="#1a1a1b" stroke="#3a424a" stroke-width="3"/>
<circle shape-rendering="geometricPrecision" cx="1069.3" cy="161.8" r="7.2" fill="none" stroke="#ffffff" stroke-width="2"/>
<line shape-rendering="geometricPrecision" x1="1074.2" y1="166.8" x2="1078.8" y2="171.6" stroke="#ffffff" stroke-width="2" stroke-linecap="round"/>
<rect shape-rendering="geometricPrecision" x="1092" y="150" width="102" height="25" rx="2" fill="#1b2940"/>
<text x="1118.9" y="170.2" font-size="20" fill="#d8d8d8" stroke="#d8d8d8" stroke-width="0.3" textLength="47.4" lengthAdjust="spacingAndGlyphs">AAPL</text>
<g clip-path="url(#cBL)">
<rect x="57" y="431" width="649" height="1" fill="#1c1c2e"/>
<rect x="57" y="463" width="649" height="1" fill="#1c1c2e"/>
<rect x="57" y="494" width="649" height="1" fill="#1c1c2e"/>
<rect x="57" y="526" width="649" height="1" fill="#1c1c2e"/>
<rect x="57" y="558" width="649" height="1" fill="#1c1c2e"/>
<rect x="57" y="589" width="649" height="1" fill="#1c1c2e"/>
<rect x="57" y="621" width="649" height="1" fill="#1c1c2e"/>
<rect x="57" y="653" width="649" height="1" fill="#1c1c2e"/>
<rect x="57" y="684" width="649" height="1" fill="#1c1c2e"/>
<rect x="57" y="716" width="649" height="1" fill="#1c1c2e"/>
<rect x="57" y="748" width="649" height="1" fill="#1c1c2e"/>
<rect x="138" y="427" width="1" height="332" fill="#16171b"/>
<rect x="259" y="427" width="1" height="332" fill="#16171b"/>
<rect x="350" y="427" width="1" height="332" fill="#16171b"/>
<rect x="441" y="427" width="1" height="332" fill="#16171b"/>
<rect x="532" y="427" width="1" height="332" fill="#16171b"/>
<rect x="623" y="427" width="1" height="332" fill="#16171b"/>
<rect x="33" y="736" width="29" height="22" fill="#9e5d60" fill-opacity="0.92"/>
<rect x="63" y="737" width="29" height="21" fill="#3b6f60" fill-opacity="0.92"/>
<rect x="93" y="716" width="29" height="42" fill="#3b6f60" fill-opacity="0.92"/>
<rect x="124" y="733" width="29" height="25" fill="#3b6f60" fill-opacity="0.92"/>
<rect x="154" y="733" width="29" height="25" fill="#9e5d60" fill-opacity="0.92"/>
<rect x="184" y="734" width="29" height="24" fill="#3b6f60" fill-opacity="0.92"/>
<rect x="215" y="725" width="29" height="33" fill="#9e5d60" fill-opacity="0.92"/>
<rect x="245" y="734" width="29" height="24" fill="#3b6f60" fill-opacity="0.92"/>
<rect x="275" y="734" width="29" height="24" fill="#3b6f60" fill-opacity="0.92"/>
<rect x="306" y="740" width="29" height="18" fill="#9e5d60" fill-opacity="0.92"/>
<rect x="336" y="742" width="29" height="16" fill="#9e5d60" fill-opacity="0.92"/>
<rect x="366" y="739" width="29" height="19" fill="#3b6f60" fill-opacity="0.92"/>
<rect x="397" y="738" width="29" height="20" fill="#3b6f60" fill-opacity="0.92"/>
<rect x="427" y="743" width="29" height="15" fill="#9e5d60" fill-opacity="0.92"/>
<rect x="457" y="722" width="29" height="36" fill="#9e5d60" fill-opacity="0.92"/>
<rect x="488" y="737" width="29" height="21" fill="#9e5d60" fill-opacity="0.92"/>
<rect x="518" y="735" width="29" height="23" fill="#3b6f60" fill-opacity="0.92"/>
<rect x="548" y="739" width="29" height="19" fill="#9e5d60" fill-opacity="0.92"/>
<rect x="579" y="733" width="29" height="25" fill="#3b6f60" fill-opacity="0.92"/>
<rect x="609" y="740" width="29" height="18" fill="#9e5d60" fill-opacity="0.92"/>
<rect x="639" y="739" width="29" height="19" fill="#9e5d60" fill-opacity="0.92"/>
<rect x="669" y="721" width="29" height="37" fill="#9e5d60" fill-opacity="0.92"/>
<rect x="700" y="692" width="29" height="66" fill="#3b6f60" fill-opacity="0.92"/>
<rect x="47" y="548" width="1" height="9" fill="#c6555a"/>
<rect x="35" y="548" width="24" height="9" fill="#c6555a"/>
<rect x="77" y="553" width="1" height="11" fill="#1a9a7e"/>
<rect x="65" y="554" width="24" height="4" fill="#1a9a7e"/>
<rect x="108" y="526" width="1" height="33" fill="#1a9a7e"/>
<rect x="96" y="540" width="24" height="12" fill="#1a9a7e"/>
<rect x="138" y="528" width="1" height="14" fill="#1a9a7e"/>
<rect x="126" y="533" width="24" height="4" fill="#1a9a7e"/>
<rect x="168" y="531" width="1" height="49" fill="#c6555a"/>
<rect x="156" y="533" width="24" height="36" fill="#c6555a"/>
<rect x="199" y="553" width="1" height="29" fill="#1a9a7e"/>
<rect x="187" y="563" width="24" height="7" fill="#1a9a7e"/>
<rect x="229" y="556" width="1" height="34" fill="#c6555a"/>
<rect x="217" y="566" width="24" height="20" fill="#c6555a"/>
<rect x="259" y="557" width="1" height="25" fill="#1a9a7e"/>
<rect x="247" y="558" width="24" height="15" fill="#1a9a7e"/>
<rect x="290" y="536" width="1" height="27" fill="#1a9a7e"/>
<rect x="278" y="538" width="24" height="18" fill="#1a9a7e"/>
<rect x="320" y="537" width="1" height="16" fill="#c6555a"/>
<rect x="308" y="538" width="24" height="14" fill="#c6555a"/>
<rect x="350" y="547" width="1" height="15" fill="#c6555a"/>
<rect x="338" y="548" width="24" height="7" fill="#c6555a"/>
<rect x="381" y="545" width="1" height="14" fill="#1a9a7e"/>
<rect x="369" y="551" width="24" height="1" fill="#1a9a7e"/>
<rect x="411" y="538" width="1" height="20" fill="#1a9a7e"/>
<rect x="399" y="548" width="24" height="2" fill="#1a9a7e"/>
<rect x="441" y="545" width="1" height="13" fill="#c6555a"/>
<rect x="429" y="546" width="24" height="9" fill="#c6555a"/>
<rect x="472" y="552" width="1" height="28" fill="#c6555a"/>
<rect x="460" y="552" width="24" height="22" fill="#c6555a"/>
<rect x="502" y="563" width="1" height="15" fill="#c6555a"/>
<rect x="490" y="570" width="24" height="3" fill="#c6555a"/>
<rect x="532" y="569" width="1" height="19" fill="#1a9a7e"/>
<rect x="520" y="570" width="24" height="4" fill="#1a9a7e"/>
<rect x="563" y="566" width="1" height="18" fill="#c6555a"/>
<rect x="551" y="568" width="24" height="16" fill="#c6555a"/>
<rect x="593" y="579" width="1" height="21" fill="#1a9a7e"/>
<rect x="581" y="583" width="24" height="2" fill="#1a9a7e"/>
<rect x="623" y="582" width="1" height="10" fill="#c6555a"/>
<rect x="611" y="584" width="24" height="4" fill="#c6555a"/>
<rect x="654" y="578" width="1" height="14" fill="#c6555a"/>
<rect x="642" y="588" width="24" height="1" fill="#c6555a"/>
<rect x="684" y="596" width="1" height="32" fill="#c6555a"/>
<rect x="672" y="598" width="24" height="28" fill="#c6555a"/>
<rect x="714" y="623" width="1" height="12" fill="#1a9a7e"/>
<rect x="702" y="623" width="24" height="12" fill="#1a9a7e"/>
<line x1="56" y1="708.5" x2="706" y2="708.5" stroke="#e06870" stroke-width="1" stroke-dasharray="2 2" stroke-dashoffset="0"/>
<line x1="56" y1="712" x2="706" y2="712" stroke="#5a3a3c" stroke-width="2" stroke-dasharray="2 2" stroke-dashoffset="0"/>
<line x1="56" y1="479" x2="706" y2="479" stroke="#55575c" stroke-width="2" stroke-dasharray="6 6" stroke-dashoffset="0"/>
<line x1="593" y1="426" x2="593" y2="759" stroke="#55575c" stroke-width="2" stroke-dasharray="6 6" stroke-dashoffset="0"/>
</g>
<rect x="706" y="427" width="1" height="332" fill="#26263a"/>
<rect x="57" y="759" width="649" height="1" fill="#26263a"/>
<text x="716.7" y="435.5" font-size="12.7" fill="#d4d4d8" stroke="#d4d4d8" stroke-width="0.3" letter-spacing="0.2">360.00</text>
<text x="716.7" y="467.6" font-size="12.7" fill="#d4d4d8" stroke="#d4d4d8" stroke-width="0.3" letter-spacing="0.2">340.00</text>
<text x="716.7" y="498.9" font-size="12.7" fill="#d4d4d8" stroke="#d4d4d8" stroke-width="0.3" letter-spacing="0.2">320.00</text>
<text x="716.7" y="530.7" font-size="12.7" fill="#d4d4d8" stroke="#d4d4d8" stroke-width="0.3" letter-spacing="0.2">300.00</text>
<text x="716.7" y="562.5" font-size="12.7" fill="#d4d4d8" stroke="#d4d4d8" stroke-width="0.3" letter-spacing="0.2">280.00</text>
<text x="716.7" y="594.1" font-size="12.7" fill="#d4d4d8" stroke="#d4d4d8" stroke-width="0.3" letter-spacing="0.2">260.00</text>
<text x="716.7" y="657" font-size="12.7" fill="#d4d4d8" stroke="#d4d4d8" stroke-width="0.3" letter-spacing="0.2">220.00</text>
<text x="716.7" y="689" font-size="12.7" fill="#d4d4d8" stroke="#d4d4d8" stroke-width="0.3" letter-spacing="0.2">200.00</text>
<text x="716.7" y="720.7" font-size="12.7" fill="#d4d4d8" stroke="#d4d4d8" stroke-width="0.3" letter-spacing="0.2" dx="-0.9 -0.9 0 0 0 0">180.00</text>
<text x="716.7" y="751.7" font-size="12.7" fill="#d4d4d8" stroke="#d4d4d8" stroke-width="0.3" letter-spacing="0.2" dx="-0.9 -0.9 0 0 0 0">160.00</text>
<path d="M706.5,468.5 H759.8 Q762.8,468.5 762.8,471.5 V486.2 Q762.8,489.2 759.8,489.2 H706.5 Q706.5,489.2 706.5,489.2 V468.5 Q706.5,468.5 706.5,468.5 Z" fill="#333333"/>
<text x="716.7" y="483.35" font-size="12.7" fill="#ffffff" stroke="#ffffff" stroke-width="0.3" letter-spacing="0.2">329.90</text>
<path d="M706,614.5 H759.7 Q762.7,614.5 762.7,617.5 V628.5 Q762.7,631.5 759.7,631.5 H706 Q706,631.5 706,631.5 V614.5 Q706,614.5 706,614.5 Z" fill="#1a9a7c"/>
<text x="716.7" y="627.5" font-size="12.7" fill="#ffffff" stroke="#ffffff" stroke-width="0.3" letter-spacing="0.2">238.83</text>
<path d="M706,684 H768 Q771,684 771,687 V697 Q771,700 768,700 H706 Q706,700 706,700 V684 Q706,684 706,684 Z" fill="#4a8c7e"/>
<text x="716.7" y="696.5" font-size="12.7" fill="#ffffff" stroke="#ffffff" stroke-width="0.3" letter-spacing="0.2" dx="-0.9 -0.9 0 0 0 0 0">120.78M</text>
<text x="138.3" y="777.5" font-size="12.7" fill="#d4d4d8" text-anchor="middle" stroke="#d4d4d8" stroke-width="0.3" letter-spacing="0.2">26</text>
<text x="259.3" y="777.5" font-size="12.7" fill="#d4d4d8" text-anchor="middle" font-weight="bold" stroke="#d4d4d8" stroke-width="0.3" letter-spacing="0.2">Feb</text>
<text x="350.4" y="777.5" font-size="12.7" fill="#d4d4d8" text-anchor="middle" stroke="#d4d4d8" stroke-width="0.3" letter-spacing="0.2">4</text>
<text x="441.6" y="777.5" font-size="12.7" fill="#d4d4d8" text-anchor="middle" stroke="#d4d4d8" stroke-width="0.3" letter-spacing="0.2">9</text>
<text x="532.5" y="777.5" font-size="12.7" fill="#d4d4d8" text-anchor="middle" stroke="#d4d4d8" stroke-width="0.3" letter-spacing="0.2">16</text>
<path shape-rendering="geometricPrecision" d="M532,760 H654 V779 Q654,782 651,782 H535 Q532,782 532,779 Z" fill="#2b2b2c"/>
<text x="540.6" y="777.2" font-size="12.7" fill="#e0e0e0" stroke="#e0e0e0" stroke-width="0.3" letter-spacing="0.2">17 Feb '21</text>
<text x="608" y="777.2" font-size="12.7" fill="#e0e0e0" stroke="#e0e0e0" stroke-width="0.3" letter-spacing="0.2">00:00</text>
<g clip-path="url(#cBR)">
<rect x="776" y="464" width="654" height="1" fill="#1c1c2e"/>
<rect x="776" y="511" width="654" height="1" fill="#1c1c2e"/>
<rect x="776" y="558" width="654" height="1" fill="#1c1c2e"/>
<rect x="776" y="605" width="654" height="1" fill="#1c1c2e"/>
<rect x="776" y="652" width="654" height="1" fill="#1c1c2e"/>
<rect x="776" y="699" width="654" height="1" fill="#1c1c2e"/>
<rect x="776" y="747" width="654" height="1" fill="#1c1c2e"/>
<rect x="826" y="427" width="1" height="332" fill="#16171b"/>
<rect x="948" y="427" width="1" height="332" fill="#16171b"/>
<rect x="1036" y="427" width="1" height="332" fill="#16171b"/>
<rect x="1124" y="427" width="1" height="332" fill="#16171b"/>
<rect x="1211" y="427" width="1" height="332" fill="#16171b"/>
<rect x="1299" y="427" width="1" height="332" fill="#16171b"/>
<rect x="1387" y="427" width="1" height="332" fill="#16171b"/>
<rect x="765" y="745" width="16" height="13" fill="#9e5d60" fill-opacity="0.92"/>
<rect x="783" y="747" width="16" height="11" fill="#9e5d60" fill-opacity="0.92"/>
<rect x="800" y="748" width="16" height="10" fill="#3b6f60" fill-opacity="0.92"/>
<rect x="818" y="734" width="16" height="24" fill="#3b6f60" fill-opacity="0.92"/>
<rect x="835" y="695" width="16" height="63" fill="#9e5d60" fill-opacity="0.92"/>
<rect x="853" y="692" width="16" height="66" fill="#3b6f60" fill-opacity="0.92"/>
<rect x="870" y="716" width="16" height="42" fill="#3b6f60" fill-opacity="0.92"/>
<rect x="888" y="729" width="16" height="29" fill="#9e5d60" fill-opacity="0.92"/>
<rect x="905" y="736" width="16" height="22" fill="#3b6f60" fill-opacity="0.92"/>
<rect x="923" y="747" width="16" height="11" fill="#9e5d60" fill-opacity="0.92"/>
<rect x="941" y="743" width="16" height="15" fill="#9e5d60" fill-opacity="0.92"/>
<rect x="958" y="738" width="16" height="20" fill="#3b6f60" fill-opacity="0.92"/>
<rect x="976" y="743" width="16" height="15" fill="#9e5d60" fill-opacity="0.92"/>
<rect x="993" y="740" width="16" height="18" fill="#3b6f60" fill-opacity="0.92"/>
<rect x="1011" y="726" width="16" height="32" fill="#3b6f60" fill-opacity="0.92"/>
<rect x="1028" y="744" width="16" height="14" fill="#3b6f60" fill-opacity="0.92"/>
<rect x="1046" y="736" width="16" height="22" fill="#3b6f60" fill-opacity="0.92"/>
<rect x="1063" y="742" width="16" height="16" fill="#3b6f60" fill-opacity="0.92"/>
<rect x="1081" y="740" width="16" height="18" fill="#9e5d60" fill-opacity="0.92"/>
<rect x="1098" y="743" width="16" height="15" fill="#3b6f60" fill-opacity="0.92"/>
<rect x="1116" y="747" width="16" height="11" fill="#3b6f60" fill-opacity="0.92"/>
<rect x="1134" y="749" width="16" height="9" fill="#9e5d60" fill-opacity="0.92"/>
<rect x="1151" y="741" width="16" height="17" fill="#3b6f60" fill-opacity="0.92"/>
<rect x="1169" y="743" width="16" height="15" fill="#9e5d60" fill-opacity="0.92"/>
<rect x="1186" y="745" width="16" height="13" fill="#3b6f60" fill-opacity="0.92"/>
<rect x="1204" y="722" width="16" height="36" fill="#9e5d60" fill-opacity="0.92"/>
<rect x="1221" y="732" width="16" height="26" fill="#9e5d60" fill-opacity="0.92"/>
<rect x="1239" y="742" width="16" height="16" fill="#9e5d60" fill-opacity="0.92"/>
<rect x="1256" y="746" width="16" height="12" fill="#3b6f60" fill-opacity="0.92"/>
<rect x="1274" y="752" width="16" height="6" fill="#9e5d60" fill-opacity="0.92"/>
<rect x="1291" y="745" width="16" height="13" fill="#3b6f60" fill-opacity="0.92"/>
<rect x="1309" y="744" width="16" height="14" fill="#3b6f60" fill-opacity="0.92"/>
<rect x="1327" y="747" width="16" height="11" fill="#9e5d60" fill-opacity="0.92"/>
<rect x="1344" y="750" width="16" height="8" fill="#3b6f60" fill-opacity="0.92"/>
<rect x="1362" y="741" width="16" height="17" fill="#3b6f60" fill-opacity="0.92"/>
<rect x="1379" y="739" width="16" height="19" fill="#3b6f60" fill-opacity="0.92"/>
<rect x="1397" y="740" width="16" height="18" fill="#3b6f60" fill-opacity="0.92"/>
<rect x="1414" y="743" width="16" height="15" fill="#3b6f60" fill-opacity="0.92"/>
<rect x="773" y="636" width="1" height="4" fill="#c6555a"/>
<rect x="766" y="636" width="14" height="4" fill="#c6555a"/>
<rect x="791" y="636" width="1" height="9" fill="#c6555a"/>
<rect x="784" y="638" width="14" height="4" fill="#c6555a"/>
<rect x="808" y="638" width="1" height="7" fill="#1a9a7e"/>
<rect x="801" y="640" width="14" height="2" fill="#1a9a7e"/>
<rect x="826" y="599" width="1" height="45" fill="#1a9a7e"/>
<rect x="819" y="600" width="14" height="42" fill="#1a9a7e"/>
<rect x="843" y="601" width="1" height="14" fill="#c6555a"/>
<rect x="836" y="604" width="14" height="2" fill="#c6555a"/>
<rect x="861" y="582" width="1" height="27" fill="#1a9a7e"/>
<rect x="854" y="584" width="14" height="24" fill="#1a9a7e"/>
<rect x="878" y="573" width="1" height="15" fill="#1a9a7e"/>
<rect x="871" y="583" width="14" height="2" fill="#1a9a7e"/>
<rect x="896" y="584" width="1" height="11" fill="#c6555a"/>
<rect x="889" y="584" width="14" height="10" fill="#c6555a"/>
<rect x="913" y="590" width="1" height="8" fill="#1a9a7e"/>
<rect x="906" y="594" width="14" height="2" fill="#1a9a7e"/>
<rect x="931" y="590" width="1" height="6" fill="#c6555a"/>
<rect x="924" y="593" width="14" height="2" fill="#c6555a"/>
<rect x="949" y="591" width="1" height="7" fill="#c6555a"/>
<rect x="942" y="594" width="14" height="2" fill="#c6555a"/>
<rect x="966" y="588" width="1" height="11" fill="#1a9a7e"/>
<rect x="959" y="591" width="14" height="4" fill="#1a9a7e"/>
<rect x="984" y="587" width="1" height="6" fill="#c6555a"/>
<rect x="977" y="591" width="14" height="1" fill="#c6555a"/>
<rect x="1001" y="584" width="1" height="10" fill="#1a9a7e"/>
<rect x="994" y="585" width="14" height="7" fill="#1a9a7e"/>
<rect x="1019" y="573" width="1" height="11" fill="#1a9a7e"/>
<rect x="1012" y="577" width="14" height="7" fill="#1a9a7e"/>
<rect x="1036" y="576" width="1" height="4" fill="#1a9a7e"/>
<rect x="1029" y="577" width="14" height="1" fill="#1a9a7e"/>
<rect x="1054" y="566" width="1" height="12" fill="#1a9a7e"/>
<rect x="1047" y="570" width="14" height="7" fill="#1a9a7e"/>
<rect x="1071" y="566" width="1" height="6" fill="#1a9a7e"/>
<rect x="1064" y="567" width="14" height="3" fill="#1a9a7e"/>
<rect x="1089" y="560" width="1" height="10" fill="#c6555a"/>
<rect x="1082" y="565" width="14" height="5" fill="#c6555a"/>
<rect x="1106" y="563" width="1" height="9" fill="#1a9a7e"/>
<rect x="1099" y="567" width="14" height="3" fill="#1a9a7e"/>
<rect x="1124" y="564" width="1" height="3" fill="#1a9a7e"/>
<rect x="1117" y="565" width="14" height="1" fill="#1a9a7e"/>
<rect x="1142" y="562" width="1" height="8" fill="#c6555a"/>
<rect x="1135" y="565" width="14" height="1" fill="#c6555a"/>
<rect x="1159" y="558" width="1" height="10" fill="#1a9a7e"/>
<rect x="1152" y="559" width="14" height="7" fill="#1a9a7e"/>
<rect x="1177" y="556" width="1" height="11" fill="#c6555a"/>
<rect x="1170" y="560" width="14" height="5" fill="#c6555a"/>
<rect x="1194" y="557" width="1" height="8" fill="#1a9a7e"/>
<rect x="1187" y="560" width="14" height="5" fill="#1a9a7e"/>
<rect x="1212" y="562" width="1" height="21" fill="#c6555a"/>
<rect x="1205" y="566" width="14" height="14" fill="#c6555a"/>
<rect x="1229" y="566" width="1" height="13" fill="#c6555a"/>
<rect x="1222" y="572" width="14" height="5" fill="#c6555a"/>
<rect x="1247" y="576" width="1" height="9" fill="#c6555a"/>
<rect x="1240" y="577" width="14" height="5" fill="#c6555a"/>
<rect x="1264" y="578" width="1" height="6" fill="#1a9a7e"/>
<rect x="1257" y="582" width="14" height="1" fill="#1a9a7e"/>
<rect x="1282" y="579" width="1" height="6" fill="#c6555a"/>
<rect x="1275" y="581" width="14" height="1" fill="#c6555a"/>
<rect x="1299" y="577" width="1" height="7" fill="#1a9a7e"/>
<rect x="1292" y="579" width="14" height="2" fill="#1a9a7e"/>
<rect x="1317" y="575" width="1" height="7" fill="#1a9a7e"/>
<rect x="1310" y="577" width="14" height="1" fill="#1a9a7e"/>
<rect x="1335" y="575" width="1" height="5" fill="#c6555a"/>
<rect x="1328" y="577" width="14" height="2" fill="#c6555a"/>
<rect x="1352" y="578" width="1" height="7" fill="#1a9a7e"/>
<rect x="1345" y="578" width="14" height="2" fill="#1a9a7e"/>
<rect x="1370" y="575" width="1" height="4" fill="#1a9a7e"/>
<rect x="1363" y="577" width="14" height="2" fill="#1a9a7e"/>
<rect x="1387" y="570" width="1" height="8" fill="#1a9a7e"/>
<rect x="1380" y="574" width="14" height="4" fill="#1a9a7e"/>
<rect x="1405" y="565" width="1" height="12" fill="#1a9a7e"/>
<rect x="1398" y="567" width="14" height="8" fill="#1a9a7e"/>
<rect x="1422" y="560" width="1" height="7" fill="#1a9a7e"/>
<rect x="1415" y="562" width="14" height="5" fill="#1a9a7e"/>
<line x1="776" y1="741.5" x2="1430" y2="741.5" stroke="#d07276" stroke-width="1" stroke-dasharray="2 2" stroke-dashoffset="0"/>
</g>
<rect x="1430" y="427" width="1" height="332" fill="#26263a"/>
<rect x="776" y="759" width="654" height="1" fill="#26263a"/>
<text x="1440.2" y="468.3" font-size="12.7" fill="#d4d4d8" stroke="#d4d4d8" stroke-width="0.3" letter-spacing="0.2">32.00</text>
<text x="1440.2" y="515.7" font-size="12.7" fill="#d4d4d8" stroke="#d4d4d8" stroke-width="0.3" letter-spacing="0.2">28.00</text>
<text x="1440.2" y="562.5" font-size="12.7" fill="#d4d4d8" stroke="#d4d4d8" stroke-width="0.3" letter-spacing="0.2">24.00</text>
<text x="1440.2" y="609.5" font-size="12.7" fill="#d4d4d8" stroke="#d4d4d8" stroke-width="0.3" letter-spacing="0.2">20.00</text>
<text x="1440.2" y="656.5" font-size="12.7" fill="#d4d4d8" stroke="#d4d4d8" stroke-width="0.3" letter-spacing="0.2" dx="-0.9 -0.9 0 0 0">16.00</text>
<text x="1440.2" y="704.3" font-size="12.7" fill="#d4d4d8" stroke="#d4d4d8" stroke-width="0.3" letter-spacing="0.2" dx="-0.9 -0.9 0 0 0">12.00</text>
<path d="M1430.5,554 H1476.0 Q1479.0,554 1479.0,557 V568 Q1479.0,571 1476.0,571 H1430.5 Q1430.5,571 1430.5,571 V554 Q1430.5,554 1430.5,554 Z" fill="#1a9a7c"/>
<text x="1440.2" y="567" font-size="12.7" fill="#ffffff" stroke="#ffffff" stroke-width="0.3" letter-spacing="0.2">23.64</text>
<path d="M1430,734.5 H1486.6 Q1489.6,734.5 1489.6,737.5 V748.0 Q1489.6,751.0 1486.6,751.0 H1430 Q1430,751.0 1430,751.0 V734.5 Q1430,734.5 1430,734.5 Z" fill="#4a8a7c"/>
<text x="1440.2" y="747.25" font-size="12.7" fill="#ffffff" stroke="#ffffff" stroke-width="0.3" letter-spacing="0.2">75.75M</text>
<text x="825.7" y="777.5" font-size="12.7" fill="#d4d4d8" text-anchor="middle" stroke="#d4d4d8" stroke-width="0.3" letter-spacing="0.2">23</text>
<text x="948.5" y="777.5" font-size="12.7" fill="#d4d4d8" text-anchor="middle" font-weight="bold" stroke="#d4d4d8" stroke-width="0.3" letter-spacing="0.2">Nov</text>
<text x="1036" y="777.5" font-size="12.7" fill="#d4d4d8" text-anchor="middle" stroke="#d4d4d8" stroke-width="0.3" letter-spacing="0.2">8</text>
<text x="1123.7" y="777.5" font-size="12.7" fill="#d4d4d8" text-anchor="middle" stroke="#d4d4d8" stroke-width="0.3" letter-spacing="0.2">15</text>
<text x="1211.5" y="777.5" font-size="12.7" fill="#d4d4d8" text-anchor="middle" stroke="#d4d4d8" stroke-width="0.3" letter-spacing="0.2">22</text>
<text x="1299" y="777.5" font-size="12.7" fill="#d4d4d8" text-anchor="middle" font-weight="bold" stroke="#d4d4d8" stroke-width="0.3" letter-spacing="0.2">Dec</text>
<text x="1386.8" y="777.5" font-size="12.7" fill="#d4d4d8" text-anchor="middle" stroke="#d4d4d8" stroke-width="0.3" letter-spacing="0.2">9</text>
<path shape-rendering="geometricPrecision" d="M808,648 L814.6,655 H811 V662 H805 V655 H801.4 Z" fill="#3d9df5"/>
<text x="808" y="677.5" font-size="12" fill="#3d9df5" text-anchor="middle" letter-spacing="0.3">BUY</text>
<path shape-rendering="geometricPrecision" d="M1404.4,561.2 L1397.7,554.5 H1401 V547.6 H1407.8 V554.5 H1411.1 Z" fill="#f0606a"/>
<text x="1404.2" y="544" font-size="12" fill="#f0606a" text-anchor="middle" letter-spacing="0.2">SELL</text>
</svg></body></html>
